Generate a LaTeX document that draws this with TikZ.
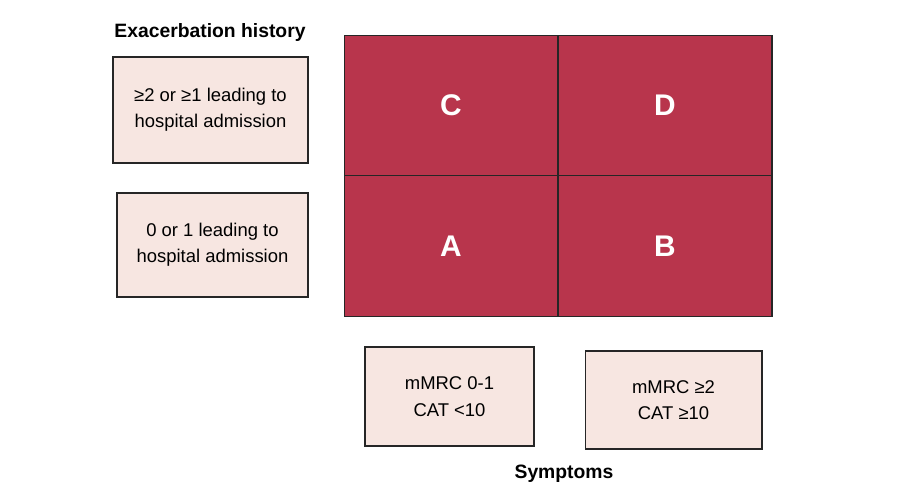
\documentclass[tikz,border=0pt]{standalone}
\usepackage{fontspec}
\setmainfont{Liberation Sans}
\usepackage{tikz}
\definecolor{gridred}{HTML}{B8354C}
\definecolor{boxpink}{HTML}{F7E6E1}
\tikzset{
    infobox/.style={draw=black!85, fill=boxpink, line width=0.6pt, align=center,
        font=\fontsize{10.5}{15}\selectfont, inner sep=0pt},
    cell/.style={draw=black!85, fill=gridred, line width=0.6pt, inner sep=0pt,
        minimum width=4.28cm, minimum height=2.81cm, text=white,
        font=\fontsize{17}{20}\selectfont\bfseries},
    heading/.style={font=\fontsize{11}{13}\selectfont\bfseries}
}
\begin{document}
\begin{tikzpicture}[x=0.02cm, y=-0.02cm]
    \useasboundingbox (0,0) rectangle (898,500);

    % 四个分组格子
    \node[cell] (C) at (451,105.5) {C};
    \node[cell] (D) at (665,105.5) {D};
    \node[cell] (A) at (451,246) {A};
    \node[cell] (B) at (665,246) {B};

    % 左侧: 急性加重史
    \node[heading] (exac) at (210,33) {Exacerbation history};
    \node[infobox, minimum width=3.9cm, minimum height=2.12cm] (high) at (210.5,110)
        {≥2 or ≥1 leading to\\hospital admission};
    \node[infobox, minimum width=3.82cm, minimum height=2.08cm] (low) at (212.5,245)
        {0 or 1 leading to\\hospital admission};

    % 下方: 症状
    \node[infobox, minimum width=3.38cm, minimum height=1.98cm] (few) at (449.5,396.5)
        {mMRC 0-1\\CAT <10};
    \node[infobox, minimum width=3.54cm, minimum height=1.96cm] (more) at (673.5,400)
        {mMRC ≥2\\CAT ≥10};
    \node[heading] (symp) at (564,474) {Symptoms};
\end{tikzpicture}
\end{document}
